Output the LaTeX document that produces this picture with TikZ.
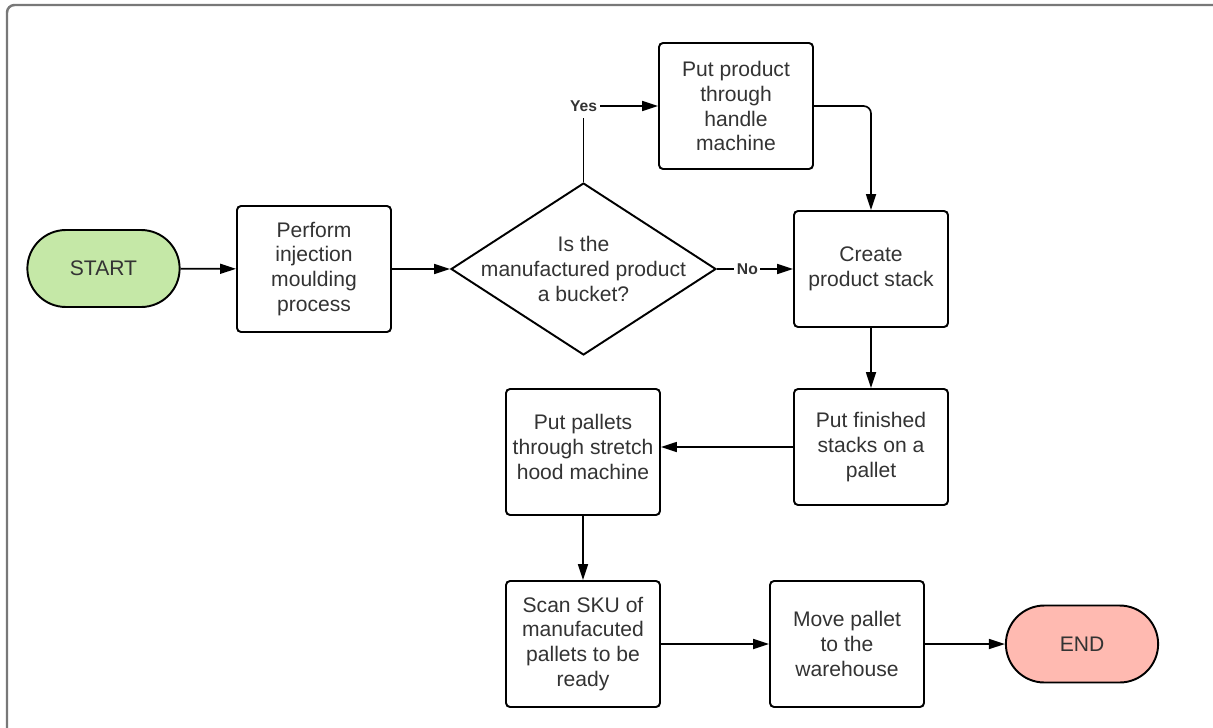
\documentclass[tikz,border=0pt]{standalone}
\usepackage{fontspec}
\setmainfont{Liberation Sans}
\usepackage{tikz}
\usetikzlibrary{arrows.meta,shapes.geometric,shapes.misc}
\usepackage{xcolor}
\definecolor{startgreen}{RGB}{197,232,167}
\definecolor{stopred}{RGB}{255,186,177}
\definecolor{txtgray}{RGB}{51,51,51}
\definecolor{framegray}{RGB}{120,120,120}

\tikzset{
  base/.style={draw=black, line width=1.1pt, text=txtgray, align=center,
    font=\fontsize{12}{14.2}\selectfont},
  process/.style={base, rectangle, rounded corners=0.08cm,
    minimum width=3.08cm, minimum height=2.52cm, inner sep=1pt},
  terminal/.style={base, rounded rectangle, minimum width=3.28cm, minimum height=1.54cm},
  decision/.style={base, diamond, minimum width=5.3cm, minimum height=3.44cm, inner sep=0pt},
  qtext/.style={text=txtgray, align=center, font=\fontsize{12}{14.2}\selectfont},
  choice/.style={text=txtgray, fill=white, inner xsep=1.5pt, inner ysep=4pt,
    font=\fontsize{8.9}{10}\selectfont\bfseries},
  arr/.style={-{Triangle[length=0.32cm,width=0.2cm]}, line width=0.95pt},
}

\begin{document}
\begin{tikzpicture}[x=0.02cm, y=-0.02cm]
\useasboundingbox (0,0) rectangle (1213,727);
\clip (0,0) rectangle (1213,727);
% cadre
\draw[framegray, line width=1.4pt, rounded corners=0.15cm] (7,5) rectangle (1240,760);
% etapes
\node[terminal, fill=startgreen] (start) at (103.5,268.5) {START};
\node[process] (perform) at (314,269) {Perform\\injection\\moulding\\process};
\node[decision] (bucket) at (583.5,269) {};
\node[qtext] (bucketq) at (bucket) {Is the\\manufactured product\\a bucket?};
\node[process] (handle) at (736,106) {Put product\\through\\handle\\machine};
\node[process, minimum height=2.32cm] (create) at (871,269) {Create\\product stack};
\node[process, minimum height=2.32cm] (finished) at (871,447) {Put finished\\stacks on a\\pallet};
\node[process] (stretch) at (583,452) {Put pallets\\through stretch\\hood machine\\[-8.5pt]};
\node[process] (scan) at (583,644) {Scan SKU of\\manufacuted\\pallets to be\\ready};
\node[process] (move) at (847,644) {Move pallet\\to the\\warehouse};
\node[terminal, fill=stopred] (stop) at (1082,644) {END};
% fleches
\draw[arr] (start) -- (perform);
\draw[arr] (perform) -- (bucket);
\draw[arr] (bucket.north) |- node[choice] (yes) {Yes} (handle.west);
\draw[arr] (bucket.east) -- node[choice, pos=0.4] (no) {No} (create.west);
\draw[arr, rounded corners=0.15cm] (handle.east) -| (create.north);
\draw[arr] (create) -- (finished);
\draw[arr] (finished.west) -- (finished.west -| stretch.east);
\draw[arr] (stretch) -- (scan);
\draw[arr] (scan) -- (move);
\draw[arr] (move) -- (stop);
\end{tikzpicture}
\end{document}
